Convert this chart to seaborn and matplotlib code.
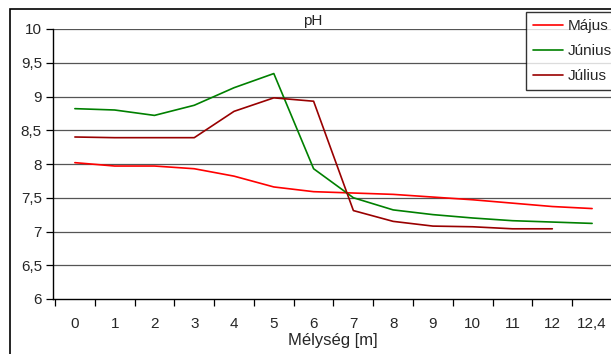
import matplotlib
matplotlib.use("Agg")
import matplotlib.pyplot as plt
import seaborn as sns
import pandas as pd
import numpy as np
from matplotlib.patches import Rectangle
from matplotlib.lines import Line2D

categories = ["0", "1", "2", "3", "4", "5", "6", "7", "8", "9", "10", "11", "12", "12,4"]
majus = [8.02, 7.97, 7.97, 7.93, 7.82, 7.66, 7.59, 7.57, 7.55, 7.51, 7.47, 7.42, 7.37, 7.34]
junius = [8.82, 8.80, 8.72, 8.87, 9.13, 9.34, 7.93, 7.50, 7.32, 7.25, 7.20, 7.16, 7.14, 7.12]
julius = [8.40, 8.39, 8.39, 8.39, 8.78, 8.98, 8.93, 7.31, 7.15, 7.08, 7.07, 7.04, 7.04, np.nan]
series_names = ["Május", "Június", "Július"]
colors = ["#FF0000", "#008000", "#990000"]

rows = []
for name, vals in zip(series_names, [majus, junius, julius]):
    for i, v in enumerate(vals):
        rows.append({"pos": i, "pH": v, "hónap": name})
df = pd.DataFrame(rows).dropna()

sns.set_theme(style="white")
plt.rcParams["font.family"] = ["Liberation Sans", "DejaVu Sans"]

W, H = 611, 354
fig = plt.figure(figsize=(W / 100, H / 100), dpi=100)
left, right, top, bottom = 53, 612, 29, 299
ax = fig.add_axes([left / W, 1 - bottom / H, (right - left) / W, (bottom - top) / H])

sns.lineplot(data=df, x="pos", y="pH", hue="hónap", palette=dict(zip(series_names, colors)),
             hue_order=series_names, linewidth=1.2, ax=ax, legend=False, sort=True)

ax.set_xlim(-0.55, len(categories) - 0.5)
ax.set_ylim(6, 10)
yt = np.arange(6, 10.01, 0.5)
ax.set_yticks(yt)
ax.set_yticklabels([("%g" % v).replace(".", ",") for v in yt], fontsize=11)
for v in yt[1:]:
    ax.axhline(v, color="#555555", lw=0.9, zorder=0)

ax.set_xticks(np.arange(len(categories)))
ax.set_xticklabels(categories, fontsize=11)
ax.tick_params(axis="x", length=0, pad=13)
ax.set_xticks(np.arange(len(categories) + 1) - 0.5, minor=True)
ax.tick_params(axis="x", which="minor", length=5, direction="out", width=0.9, color="black", bottom=True)
ax.tick_params(axis="y", length=5, direction="out", width=0.9, color="black", left=True, pad=3)

for s in ["top", "right"]:
    ax.spines[s].set_visible(False)
for s in ["left", "bottom"]:
    ax.spines[s].set_color("black")
    ax.spines[s].set_linewidth(1.0)

ax.set_xlabel("")
ax.set_ylabel("")
fig.text(333 / W, 1 - 341 / H, "Mélység [m]", ha="center", va="center", fontsize=12)
fig.text(313 / W, 1 - 21 / H, "pH", ha="center", va="center", fontsize=11)

handles = [Line2D([], [], color=c, lw=1.2) for c in colors]
leg = fig.legend(handles, series_names, loc="upper left", bbox_to_anchor=(526 / W, 1 - 12 / H),
                 fontsize=11, frameon=True, fancybox=False, handlelength=2.0, handletextpad=0.3,
                 labelspacing=0.72, borderpad=0.45, borderaxespad=0)
leg.get_frame().set_edgecolor("black")
leg.get_frame().set_linewidth(1.0)

fig.patches.append(Rectangle((10 / W, -0.2), 1.2, 1.2 - 9 / H,
                             transform=fig.transFigure, fill=False, edgecolor="black", lw=1.2))

fig.savefig("out.png", dpi=100)
